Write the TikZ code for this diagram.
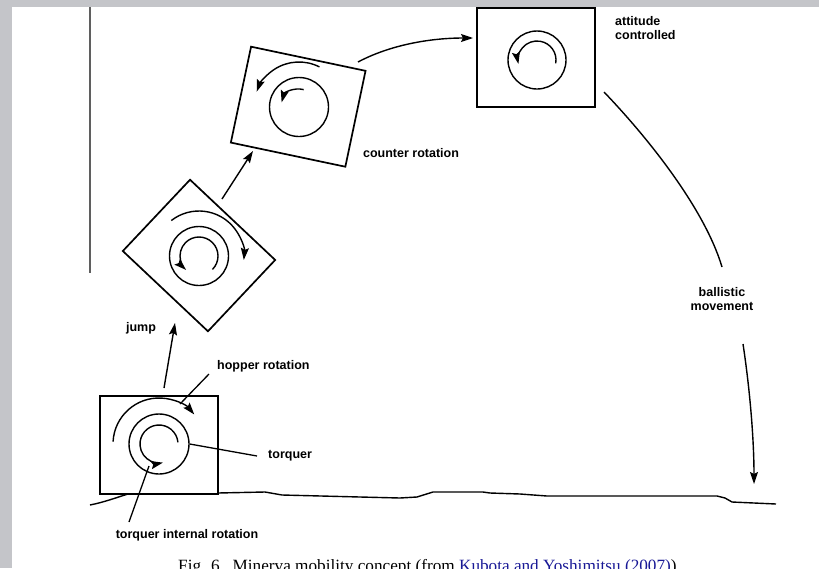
\documentclass[tikz,border=0pt]{standalone}
\usepackage{fontspec}
\setmainfont{Liberation Sans}
\newfontfamily\capfont{Liberation Serif}
\usetikzlibrary{arrows.meta}
\definecolor{backgray}{RGB}{196,197,201}
\definecolor{rulegray}{RGB}{95,95,95}
\definecolor{linkblue}{RGB}{25,25,150}

\begin{document}
\begin{tikzpicture}[x=1pt,y=1pt,
  frame/.style={draw,line width=1.7pt,inner sep=0pt},
  wheel/.style={draw,circle,line width=1.4pt,inner sep=0pt},
  lbl/.style={font=\fontsize{12.5}{14.5}\selectfont\bfseries,inner sep=0pt},
  move/.style={line width=1.4pt,-{Stealth[length=12pt,width=8pt,inset=2pt]}},
  lead/.style={line width=1.3pt}]
  \useasboundingbox (0,0) rectangle (819,-568);
  \clip (0,0) rectangle (819,-568);
  \fill[backgray] (0,0) rectangle (819,-568);
  \fill[white] (12,-7) rectangle (819,-568);
  \draw[rulegray,line width=1.5pt] (90,-7) -- (90,-273);

  \draw[line width=1.4pt] (90,-505) .. controls (105,-502) and (118,-497) .. (128,-494)
     -- (218,-493) -- (265,-492) -- (282,-495) -- (360,-497) -- (400,-498) -- (417,-497)
     -- (433,-492) -- (483,-492) -- (490,-493) -- (520,-494) -- (547,-496) -- (717,-496)
     -- (725,-498) -- (732,-502) -- (776,-504);

  \node[frame,fill=white,minimum width=118pt,minimum height=98pt] (hop) at (159,-445) {};
  \node[wheel,minimum size=60pt] (torq) at (159,-444) {};
  \draw[move] ([shift={(177:46pt)}]torq.center) arc[start angle=177,end angle=40,radius=46pt];
  \draw[move] ([shift={(5:19pt)}]torq.center) arc[start angle=5,end angle=282,radius=19pt];

  \node[frame,minimum width=117pt,minimum height=98pt,rotate=-43.3] (spin) at (199,-255.5) {};
  \node[wheel,minimum size=59pt] (spinwheel) at (199,-256) {};
  \draw[move] ([shift={(128:45pt)}]spinwheel.center) arc[start angle=128,end angle=-5,radius=45pt];
  \draw[move] ([shift={(-45:19pt)}]spinwheel.center) arc[start angle=-45,end angle=227,radius=19pt];

  \node[frame,minimum width=117pt,minimum height=98pt,rotate=-11.9] (flip) at (298.2,-106.7) {};
  \node[wheel,minimum size=59pt] (flipwheel) at (299,-107) {};
  \draw[move] ([shift={(63:45pt)}]flipwheel.center) arc[start angle=63,end angle=160,radius=45pt];
  \draw[move] ([shift={(75:18pt)}]flipwheel.center) arc[start angle=75,end angle=165,radius=18pt];

  \node[frame,minimum width=118pt,minimum height=99pt] (hold) at (536,-57.5) {};
  \node[wheel,minimum size=58pt] (holdwheel) at (537,-60) {};
  \draw[move] ([shift={(-10:19pt)}]holdwheel.center) arc[start angle=-10,end angle=192,radius=19pt];

  \coordinate (jumpfrom) at (164,-388);
  \coordinate (jumpto) at (175,-323);
  \coordinate (risefrom) at (222,-199);
  \coordinate (riseto) at (253,-151);
  \coordinate (turnfrom) at (358,-62);
  \coordinate (turnto) at (473,-38);
  \coordinate (fallfrom) at (604,-92);
  \coordinate (fallmid) at (722,-267);
  \coordinate (landfrom) at (743,-344);
  \coordinate (landto) at (754,-484);
  \draw[move] (jumpfrom) -- (jumpto);
  \draw[move] (risefrom) -- (riseto);
  \draw[move] (turnfrom) .. controls (390,-45) and (430,-38) .. (turnto);
  \draw[line width=1.4pt] (fallfrom) .. controls (650,-140) and (705,-210) .. (fallmid);
  \draw[move] (landfrom) .. controls (750,-390) and (754,-440) .. (landto);

  \node[lbl,anchor=west,align=left] (holdtxt) at (615,-28) {attitude\\controlled};
  \node[lbl] (fliptxt) at (411,-153) {counter rotation};
  \node[lbl,align=center] (falltxt) at (722,-299) {ballistic\\movement};
  \node[lbl] (jumptxt) at (141,-328) {jump};
  \node[lbl,anchor=west] (hoptxt) at (217,-366) {hopper rotation};
  \node[lbl,anchor=west] (torqtxt) at (268,-456) {torquer};
  \node[lbl] (inttxt) at (187,-535) {torquer internal rotation};
  \coordinate (hoptip) at (180,-404);
  \coordinate (intfoot) at (129,-522);
  \coordinate (inttip) at (149,-466);
  \draw[lead] ([xshift=-8pt,yshift=-2pt]hoptxt.south west) -- (hoptip);
  \draw[lead] (torq.east) -- ([xshift=-11pt]torqtxt.west);
  \draw[lead] (intfoot) -- (inttip);

  \node[font=\capfont\fontsize{17.2}{18}\selectfont,anchor=north west,inner sep=0pt] (caption) at (178,-559)
     {Fig. 6.\ \ Minerva mobility concept (from \textcolor{linkblue}{Kubota and Yoshimitsu (2007)}).};
\end{tikzpicture}
\end{document}
